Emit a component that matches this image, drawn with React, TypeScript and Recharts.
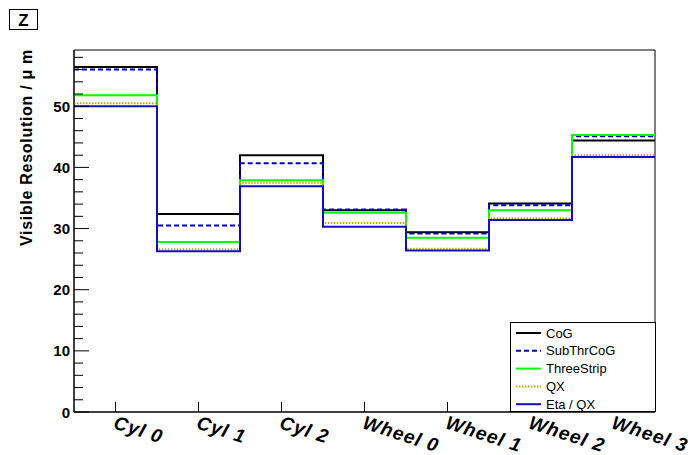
import { Line, LineChart, ReferenceArea, XAxis, YAxis } from "recharts";

const categories = ["Cyl 0", "Cyl 1", "Cyl 2", "Wheel 0", "Wheel 1", "Wheel 2", "Wheel 3"];
const binEdges = [0, 1, 2, 3, 4, 5, 6, 7];
const labelTicks = [0.5, 1.5, 2.5, 3.5, 4.5, 5.5, 6.5];
const yTicks = [0, 2, 4, 6, 8, 10, 12, 14, 16, 18, 20, 22, 24, 26, 28, 30, 32, 34, 36, 38, 40, 42, 44, 46, 48, 50, 52, 54, 56, 58];

const cog = [56.4, 32.4, 42.0, 33.0, 29.4, 34.1, 44.4];
const subThrCog = [56.0, 30.5, 40.7, 33.1, 29.2, 33.8, 45.1];
const threeStrip = [51.8, 27.8, 37.9, 32.6, 28.5, 33.0, 45.3];
const qx = [50.5, 26.6, 37.5, 30.9, 26.7, 31.7, 42.0];
const etaQx = [50.0, 26.3, 36.9, 30.3, 26.4, 31.4, 41.7];

const series = [
  { key: "cog", name: "CoG", values: cog, color: "#000000", width: 2, dash: undefined },
  { key: "sub", name: "SubThrCoG", values: subThrCog, color: "#0000cc", width: 2, dash: "5 3" },
  { key: "three", name: "ThreeStrip", values: threeStrip, color: "#00ff00", width: 2, dash: undefined },
  { key: "qx", name: "QX", values: qx, color: "#c8a800", width: 2, dash: "1.5 1.5" },
  { key: "eta", name: "Eta / QX", values: etaQx, color: "#1010c0", width: 2, dash: undefined },
];

// one row per bin edge, last edge repeats the last bin so the step closes
const rows = binEdges.map((x, i) => {
  const k = Math.min(i, categories.length - 1);
  const row: Record<string, number> = { x };
  series.forEach((s) => (row[s.key] = s.values[k]));
  return row;
});

const FONT = "'Liberation Sans', Arial, Helvetica, sans-serif";

const YTick = ({ x, y, payload }: any) => {
  const major = payload.value % 10 === 0;
  return (
    <g>
      <line x1={x} x2={x + (major ? 15 : 9)} y1={y} y2={y} stroke="#000" strokeWidth={1} />
      {major && (
        <text x={x - 4} y={y} dy={5.5} textAnchor="end" fontFamily={FONT} fontWeight="bold" fontSize={15} fill="#000">
          {payload.value}
        </text>
      )}
    </g>
  );
};

const XTick = ({ x, y, payload }: any) => {
  const label = categories[Math.floor(payload.value)];
  const tx = x - 3;
  const ty = y + 16;
  return (
    <g>
      <line x1={x} x2={x} y1={y} y2={y - 10} stroke="#000" strokeWidth={1} />
      <text
        x={tx}
        y={ty}
        transform={`rotate(18, ${tx}, ${ty})`}
        fontFamily={FONT}
        fontWeight="bold"
        fontStyle="italic"
        fontSize={19}
        letterSpacing={1}
        fill="#000"
      >
        {label}
      </text>
    </g>
  );
};

export default function App() {
  return (
    <div style={{ position: "absolute", left: 0, top: 0, width: 693, height: 455, background: "#fff" }}>
      <LineChart width={693} height={455} data={rows} margin={{ top: 50, right: 38, bottom: 0, left: 0 }}>
        <XAxis
          dataKey="x"
          type="number"
          domain={[0, 7]}
          ticks={labelTicks}
          interval={0}
          height={43}
          tickSize={0}
          tickMargin={0}
          tickLine={false}
          axisLine={{ stroke: "#000" }}
          tick={<XTick />}
          allowDataOverflow
        />
        <YAxis
          type="number"
          domain={[0, 59.2]}
          ticks={yTicks}
          interval={0}
          width={74}
          tickSize={0}
          tickMargin={0}
          tickLine={false}
          axisLine={{ stroke: "#000" }}
          tick={<YTick />}
          allowDataOverflow
        />
        {series.map((s) => (
          <Line
            key={s.key}
            dataKey={s.key}
            type="stepAfter"
            stroke={s.color}
            strokeWidth={s.width}
            strokeDasharray={s.dash}
            dot={false}
            activeDot={false}
            isAnimationActive={false}
          />
        ))}
        <ReferenceArea x1={0} x2={7} y1={0} y2={59.2} fill="none" stroke="#000" strokeWidth={1} ifOverflow="visible" />
      </LineChart>

      <svg width={693} height={455} style={{ position: "absolute", left: 0, top: 0, pointerEvents: "none" }}>
        <rect x={9.5} y={9.5} width={28} height={20} fill="#fff" stroke="#000" strokeWidth={1} />
        <text x={23.5} y={26} textAnchor="middle" fontFamily={FONT} fontWeight="bold" fontSize={17}>
          Z
        </text>
        <text
          x={32}
          y={49}
          transform="rotate(-90, 32, 49)"
          textAnchor="end"
          fontFamily={FONT}
          fontWeight="bold"
          fontSize={16}
          letterSpacing={0.7}
        >
          Visible Resolution / μ m
        </text>
        <rect x={510.5} y={322.5} width={145} height={89} fill="#fff" stroke="#000" strokeWidth={1} />
        {series.map((s, i) => {
          const cy = 333 + i * 17.8;
          return (
            <g key={s.key}>
              <line x1={516} x2={541} y1={cy} y2={cy} stroke={s.color} strokeWidth={2} strokeDasharray={s.dash} />
              <text x={546} y={cy + 4.5} fontFamily={FONT} fontSize={13} fill="#000">
                {s.name}
              </text>
            </g>
          );
        })}
      </svg>
    </div>
  );
}
